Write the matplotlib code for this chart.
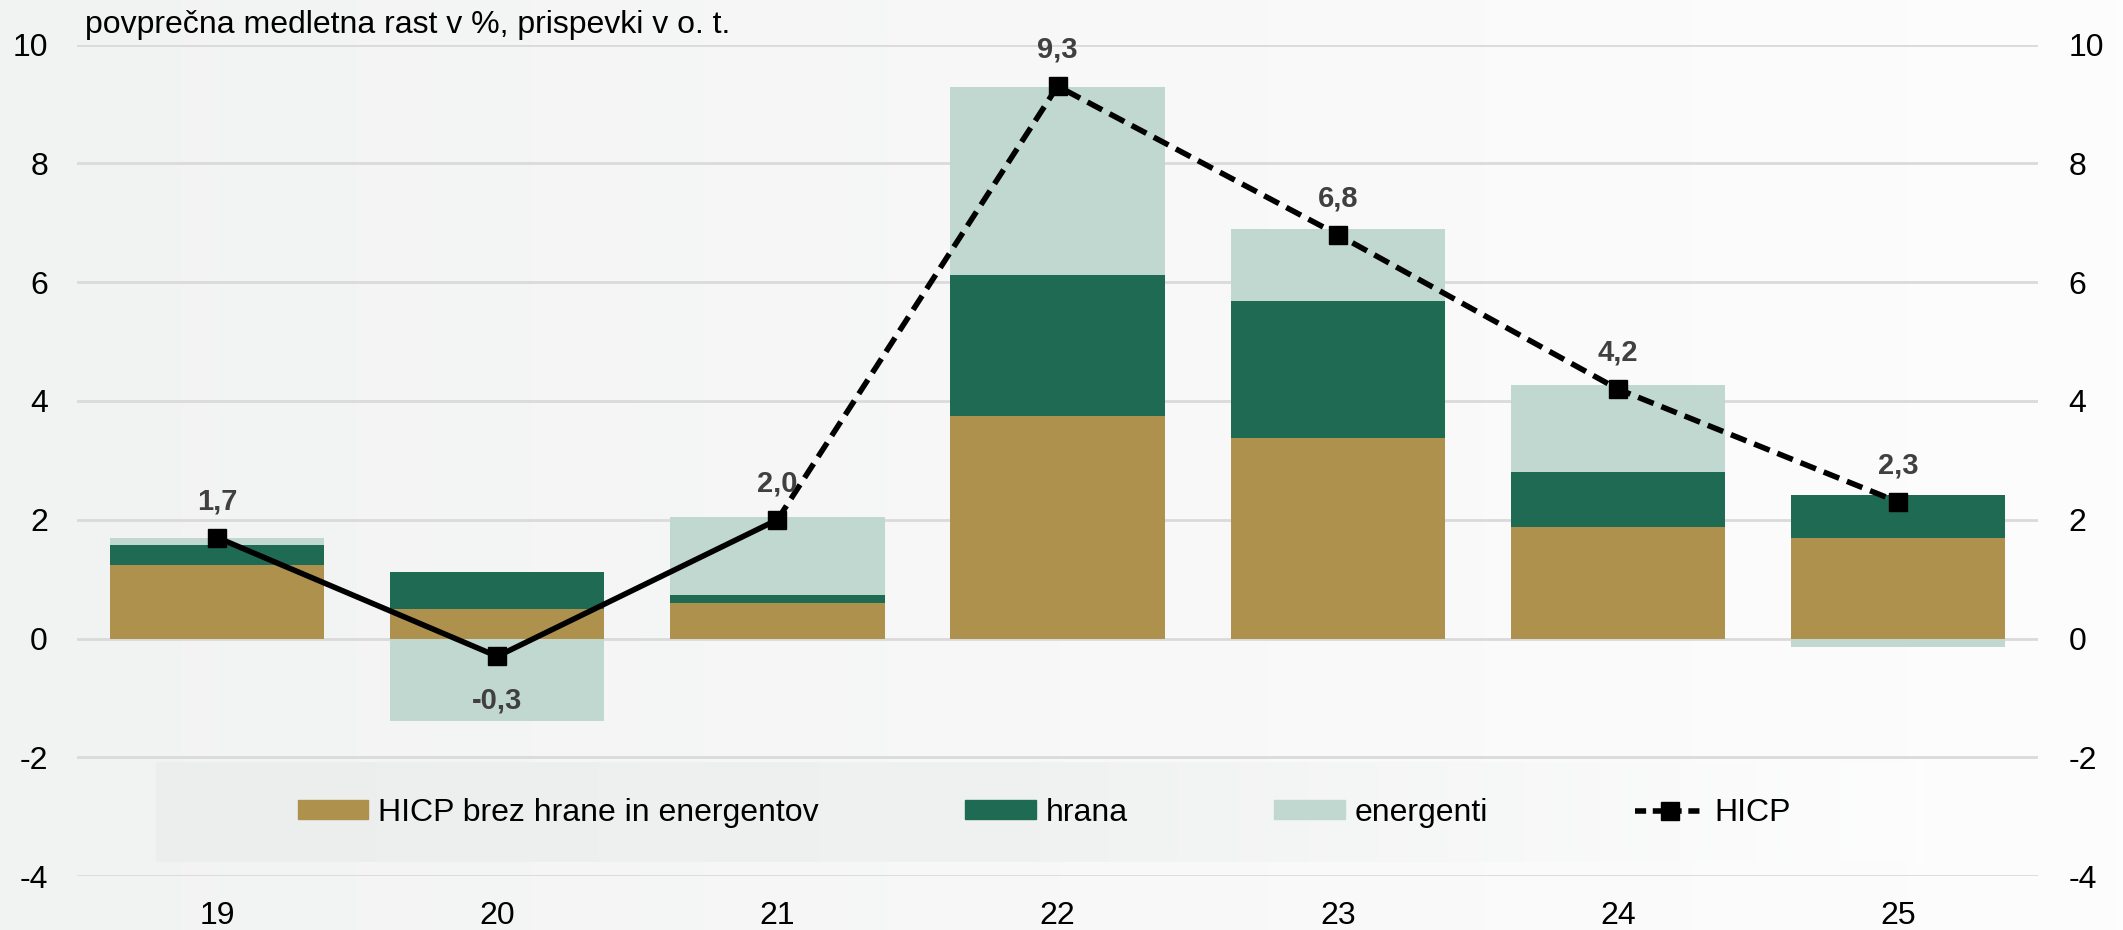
import numpy as np
import matplotlib
matplotlib.use("Agg")
import matplotlib.pyplot as plt
from matplotlib.colors import LinearSegmentedColormap
from matplotlib.lines import Line2D
from matplotlib.patches import Patch

plt.rcParams['font.family'] = ['Liberation Sans', 'DejaVu Sans']

years = ["19", "20", "21", "22", "23", "24", "25"]
core = [1.23, 0.50, 0.59, 3.74, 3.38, 1.87, 1.69]
food = [0.35, 0.62, 0.14, 2.38, 2.30, 0.94, 0.73]
energy = [0.11, -1.39, 1.32, 3.17, 1.21, 1.46, -0.14]
hicp = [1.7, -0.3, 2.0, 9.3, 6.8, 4.2, 2.3]
hicp_labels = ["1,7", "-0,3", "2,0", "9,3", "6,8", "4,2", "2,3"]

c_core = "#AF914E"
c_food = "#1F6A52"
c_energy = "#C0D8CF"
c_grid = "#DADADA"

fig = plt.figure(figsize=(21.23, 9.3), dpi=100)

# background gradient
bg = fig.add_axes([0, 0, 1, 1], zorder=-10)
grad = np.linspace(0, 1, 256).reshape(1, -1)
cmap = LinearSegmentedColormap.from_list("bg", ["#F1F3F2", "#F7F8F7", "#FDFDFD"])
bg.imshow(grad, aspect="auto", cmap=cmap, extent=[0, 1, 0, 1])
bg.axis("off")

# legend background panel (gradient)
lbg = fig.add_axes([0.0733, 0.0731, 0.8323, 0.1075], zorder=-5)
cmap2 = LinearSegmentedColormap.from_list("lbg", ["#EBEEEC", "#F0F2F1", "#FDFDFD"])
lbg.imshow(grad, aspect="auto", cmap=cmap2, extent=[0, 1, 0, 1])
lbg.axis("off")

ax = fig.add_axes([0.0363, 0.058, 0.9237, 0.894])
ax.patch.set_alpha(0)
x = np.arange(len(years))
w = 0.765

core_a = np.array(core)
food_a = np.array(food)
energy_a = np.array(energy)
pos_base = core_a + food_a

ax.bar(x, core_a, w, color=c_core, zorder=2)
ax.bar(x, food_a, w, bottom=core_a, color=c_food, zorder=2)
en_bottom = np.where(energy_a >= 0, pos_base, 0)
ax.bar(x, energy_a, w, bottom=en_bottom, color=c_energy, zorder=2)

# HICP line: solid for 19-21, dashed afterwards
ax.plot(x[:3], hicp[:3], color="black", lw=4, zorder=3)
ax.plot(x[2:], hicp[2:], color="black", lw=4, ls=(0, (3, 1.5)), zorder=3)
ax.plot(x, hicp, ls="none", marker="s", ms=13, color="black", zorder=4)

for xi, v, lab in zip(x, hicp, hicp_labels):
    if v < 0:
        ax.annotate(lab, (xi, v), xytext=(0, -22), textcoords="offset points",
                    ha="center", va="top", fontsize=21, fontweight="bold", color="#404040")
    else:
        ax.annotate(lab, (xi, v), xytext=(0, 16), textcoords="offset points",
                    ha="center", va="bottom", fontsize=21, fontweight="bold", color="#404040")

ax.set_xlim(-0.5, len(years) - 0.5)
ax.set_ylim(-4, 10)
ax.set_yticks(np.arange(-4, 11, 2))
ax.set_yticklabels([str(t) for t in range(-4, 11, 2)])
ax.set_xticks(x)
ax.set_xticklabels(years)
ax.yaxis.grid(True, color=c_grid, lw=2)
ax.set_axisbelow(True)
for s in ax.spines.values():
    s.set_visible(False)
ax.tick_params(axis="y", length=0, pad=21, labelsize=23)
ax.tick_params(axis="x", length=0, pad=18, labelsize=23)

ax2 = ax.twinx()
ax2.set_ylim(-4, 10)
ax2.set_yticks(np.arange(-4, 11, 2))
ax2.set_yticklabels([str(t) for t in range(-4, 11, 2)])
ax2.tick_params(axis="y", length=0, pad=22, labelsize=23)
for s in ax2.spines.values():
    s.set_visible(False)

ax.text(0.004, 1.005, "povprečna medletna rast v %, prispevki v o. t.", transform=ax.transAxes,
        ha="left", va="bottom", fontsize=23)

handles = [Patch(color=c_core), Patch(color=c_food), Patch(color=c_energy),
           Line2D([0], [0], color="black", lw=4, ls=(0, (2, 1.2)), marker="s", ms=13)]
labels = ["HICP brez hrane in energentov", "hrana", "energenti", "HICP"]
leg = fig.legend(handles, labels, ncol=4, loc="center", bbox_to_anchor=(0.492, 0.126),
                 fontsize=23, frameon=False, handlelength=2.2, handleheight=0.5,
                 columnspacing=4.6, handletextpad=0.3)

fig.savefig("out.png", dpi=100)
